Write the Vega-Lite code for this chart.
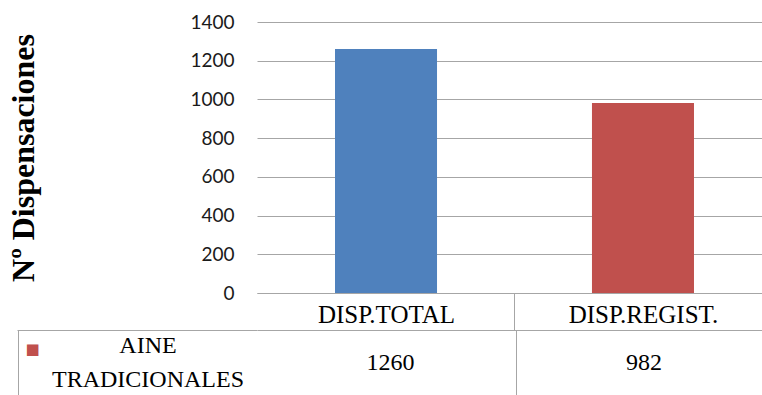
{
  "$schema": "https://vega.github.io/schema/vega-lite/v6.json",
  "background": "white",
  "autosize": {"type": "pad"},
  "padding": {"left": 7, "top": 13, "right": 0, "bottom": 0},
  "columns": 2,
  "bounds": "flush",
  "spacing": {"row": 37, "column": 0},
  "config": {"view": {"stroke": null}},
  "datasets": {
    "dispensaciones": [
      {"serie": "AINE TRADICIONALES", "categoria": "DISP.TOTAL", "valor": 1260},
      {"serie": "AINE TRADICIONALES", "categoria": "DISP.REGIST.", "valor": 982}
    ]
  },
  "concat": [
    {
      "width": 240,
      "height": 271,
      "data": {"values": [{}]},
      "mark": {"type": "text", "text": ""},
      "encoding": {}
    },
    {
      "width": 507,
      "height": 271,
      "data": {"name": "dispensaciones"},
      "mark": {"type": "bar"},
      "encoding": {
        "x": {
          "field": "categoria",
          "type": "nominal",
          "sort": null,
          "scale": {"domain": ["DISP.TOTAL", "DISP.REGIST."], "paddingInner": 0.603, "paddingOuter": 0.288, "align": 0.527},
          "axis": {
            "title": null,
            "grid": false,
            "labelAngle": 0,
            "labelFont": "Liberation Serif",
            "labelFontSize": 25,
            "labelColor": "#000000",
            "labelBaseline": "middle",
            "labelPadding": -16,
            "domainColor": "#a6a6a6",
            "domainWidth": 1,
            "ticks": true,
            "tickSize": 37,
            "tickOffset": -128.5,
            "labelOffset": 128.5,
            "tickColor": {"condition": {"test": "datum.value === 'DISP.REGIST.'", "value": "#a6a6a6"}, "value": "transparent"}
          }
        },
        "y": {
          "field": "valor",
          "type": "quantitative",
          "scale": {"domain": [0, 1400], "nice": false},
          "axis": {
            "title": "Nº Dispensaciones",
            "titleFont": "Liberation Serif",
            "titleFontSize": 32,
            "titleFontWeight": "bold",
            "titleColor": "#000000",
            "titlePadding": 149,
            "values": [0, 200, 400, 600, 800, 1000, 1200, 1400],
            "format": "d",
            "labelFont": "Lato",
            "labelFontSize": 19,
            "labelColor": "#1a1a1a",
            "labelPadding": 23,
            "ticks": false,
            "domain": false,
            "grid": true,
            "gridColor": "#a6a6a6",
            "gridWidth": 1
          }
        },
        "color": {
          "field": "categoria",
          "type": "nominal",
          "scale": {"domain": ["DISP.TOTAL", "DISP.REGIST."], "range": ["#4F81BD", "#C0504D"]},
          "legend": null
        }
      }
    },
    {
      "width": 240,
      "height": 65,
      "data": {"name": "dispensaciones"},
      "transform": [{"aggregate": [{"op": "count", "as": "n"}], "groupby": ["serie"]}],
      "encoding": {
        "x": {
          "field": "serie",
          "type": "nominal",
          "scale": {"paddingInner": 0, "paddingOuter": 0},
          "axis": {
            "orient": "top",
            "title": null,
            "labels": false,
            "ticks": false,
            "domain": true,
            "domainColor": "#a6a6a6",
            "grid": true,
            "bandPosition": 0.5,
            "tickOffset": -119.5,
            "gridColor": "#a6a6a6"
          }
        }
      },
      "layer": [
        {
          "mark": {"type": "text", "font": "Liberation Serif", "fontSize": 24, "color": "#000000", "baseline": "middle", "align": "center", "lineBreak": " ", "lineHeight": 34, "dx": 11, "dy": -17},
          "encoding": {"text": {"field": "serie", "type": "nominal"}}
        },
        {
          "mark": {"type": "text", "text": "■", "font": "DejaVu Sans", "fontSize": 15, "color": "#C0504D", "baseline": "middle", "align": "center", "dx": -104.5, "dy": -13.5},
          "encoding": {}
        }
      ]
    },
    {
      "width": 507,
      "height": 65,
      "data": {"name": "dispensaciones"},
      "mark": {"type": "text", "font": "Liberation Serif", "fontSize": 24, "color": "#000000", "baseline": "middle", "align": "center"},
      "encoding": {
        "x": {
          "field": "categoria",
          "type": "nominal",
          "sort": null,
          "scale": {"domain": ["DISP.TOTAL", "DISP.REGIST."], "paddingInner": 0.603, "paddingOuter": 0.288, "align": 0.527},
          "axis": {
            "orient": "top",
            "title": null,
            "labels": false,
            "ticks": false,
            "domain": true,
            "domainColor": "#a6a6a6",
            "grid": true,
            "bandPosition": 0.5,
            "tickOffset": -128.5,
            "gridColor": {"condition": {"test": "datum.value === 'DISP.REGIST.'", "value": "#a6a6a6"}, "value": "transparent"}
          }
        },
        "text": {"field": "valor", "type": "quantitative"}
      }
    }
  ]
}
